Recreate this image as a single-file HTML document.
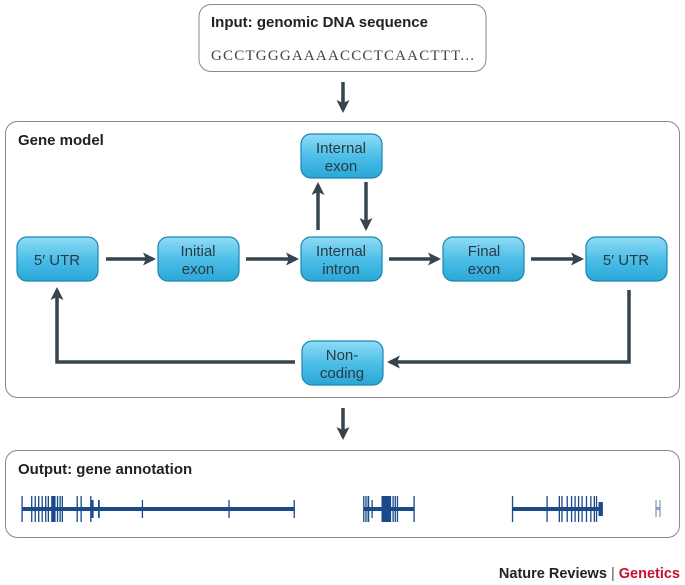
<!DOCTYPE html>
<html><head><style>
html,body{margin:0;padding:0;background:#fff;}
svg{display:block;font-family:"Liberation Sans",sans-serif;}
</style></head><body>
<svg width="685" height="585" viewBox="0 0 685 585" xmlns="http://www.w3.org/2000/svg">
<defs>
<linearGradient id="g" x1="0" y1="0" x2="0" y2="1">
<stop offset="0" stop-color="#8fdcf5"/><stop offset="0.5" stop-color="#4dbfe8"/><stop offset="1" stop-color="#2aa6d6"/>
</linearGradient>
<marker id="ah" markerWidth="13" markerHeight="13" refX="10" refY="6.5" orient="auto" markerUnits="userSpaceOnUse">
<path d="M0,0 L13,6.5 L0,13 L3,6.5 Z" fill="#36444e"/>
</marker>
</defs>
<rect x="199" y="4.5" width="287" height="67" rx="12" fill="#fff" stroke="#888" stroke-width="1"/>
<text x="211" y="27" font-size="15" font-weight="bold" fill="#222">Input: genomic DNA sequence</text>
<text x="211" y="60" font-size="15" font-family="Liberation Serif,serif" fill="#444" textLength="263" lengthAdjust="spacing">GCCTGGGAAAACCCTCAACTTT...</text>
<g stroke="#36444e" stroke-width="3.5" fill="none" marker-end="url(#ah)">
<line x1="343" y1="82" x2="343" y2="110"/>
<line x1="343" y1="408" x2="343" y2="437"/>
</g>
<rect x="5.5" y="121.5" width="674" height="276" rx="12" fill="#fff" stroke="#888"/>
<text x="18" y="145" font-size="15" font-weight="bold" fill="#222">Gene model</text>
<g stroke="#36444e" stroke-width="3.5" fill="none" marker-end="url(#ah)">
<line x1="106" y1="259" x2="153" y2="259"/>
<line x1="246" y1="259" x2="296" y2="259"/>
<line x1="389" y1="259" x2="438" y2="259"/>
<line x1="531" y1="259" x2="581" y2="259"/>
<line x1="318" y1="230" x2="318" y2="185"/>
<line x1="366" y1="182" x2="366" y2="228"/>
<polyline points="629,290 629,362 390,362"/>
<polyline points="295,362 57,362 57,290"/>
</g>
<g stroke="#1b86b3" stroke-width="1.2" fill="url(#g)">
<rect x="17" y="237" width="81" height="44" rx="10"/>
<rect x="158" y="237" width="81" height="44" rx="10"/>
<rect x="301" y="237" width="81" height="44" rx="10"/>
<rect x="301" y="134" width="81" height="44" rx="10"/>
<rect x="443" y="237" width="81" height="44" rx="10"/>
<rect x="586" y="237" width="81" height="44" rx="10"/>
<rect x="302" y="341" width="81" height="44" rx="10"/>
</g>
<g font-size="15" fill="#2a3a44" text-anchor="middle">
<text x="57" y="265">5′ UTR</text>
<text x="198" y="256">Initial</text><text x="198" y="274">exon</text>
<text x="341" y="256">Internal</text><text x="341" y="274">intron</text>
<text x="341" y="153">Internal</text><text x="341" y="171">exon</text>
<text x="484" y="256">Final</text><text x="484" y="274">exon</text>
<text x="626" y="265">5′ UTR</text>
<text x="342" y="360">Non-</text><text x="342" y="378">coding</text>
</g>
<rect x="5.5" y="450.5" width="674" height="87" rx="12" fill="#fff" stroke="#888"/>
<text x="18" y="474" font-size="15" font-weight="bold" fill="#222">Output: gene annotation</text>
<g transform="scale(0.4375,1)" fill="#1a4a8a">
<rect x="50" y="507" width="623" height="4"/>
<rect x="832" y="507" width="114" height="4"/>
<rect x="1172" y="507" width="200" height="4"/>
<g>
<rect x="49" y="496" width="3" height="26"/><rect x="71" y="496" width="3" height="26"/><rect x="79" y="496" width="3" height="26"/>
<rect x="87" y="496" width="3" height="26"/><rect x="95" y="496" width="3" height="26"/><rect x="103" y="496" width="3" height="26"/>
<rect x="109" y="496" width="3" height="26"/><rect x="117" y="496" width="10" height="26"/><rect x="130" y="496" width="3" height="26"/>
<rect x="136" y="496" width="3" height="26"/><rect x="141" y="496" width="3" height="26"/><rect x="175" y="496" width="3" height="26"/>
<rect x="184" y="496" width="3" height="26"/><rect x="206" y="496" width="3" height="26"/><rect x="209" y="500" width="5" height="18"/>
<rect x="224" y="500" width="4" height="18"/><rect x="324" y="500" width="3" height="18"/><rect x="522" y="500" width="3" height="18"/>
<rect x="671" y="500" width="3" height="18"/>
<rect x="830" y="496" width="3" height="26"/><rect x="835" y="496" width="3" height="26"/><rect x="840" y="496" width="4" height="26"/>
<rect x="849" y="500" width="3" height="18"/><rect x="872" y="496" width="22" height="26"/><rect x="897" y="496" width="3" height="26"/>
<rect x="902" y="496" width="3" height="26"/><rect x="907" y="496" width="3" height="26"/><rect x="945" y="496" width="3" height="26"/>
<rect x="1170" y="496" width="3" height="26"/><rect x="1249" y="496" width="3" height="26"/><rect x="1277" y="496" width="3" height="26"/>
<rect x="1283" y="496" width="3" height="26"/><rect x="1295" y="496" width="3" height="26"/><rect x="1305" y="496" width="3" height="26"/>
<rect x="1313" y="496" width="3" height="26"/><rect x="1321" y="496" width="3" height="26"/><rect x="1329" y="496" width="3" height="26"/>
<rect x="1339" y="496" width="3" height="26"/><rect x="1349" y="496" width="3" height="26"/><rect x="1357" y="496" width="3" height="26"/>
<rect x="1362" y="496" width="3" height="26"/><rect x="1368" y="502" width="10" height="14"/>
</g>
<g fill="#8c9cc4"><rect x="1498" y="500" width="3" height="17"/><rect x="1507" y="500" width="3" height="17"/><rect x="1498" y="507" width="12" height="3"/></g>
</g>
<text x="680" y="578" font-size="14.5" font-weight="bold" text-anchor="end" fill="#222">Nature Reviews <tspan font-weight="normal" fill="#555">|</tspan> <tspan fill="#c8102e">Genetics</tspan></text>
</svg>
</body></html>
